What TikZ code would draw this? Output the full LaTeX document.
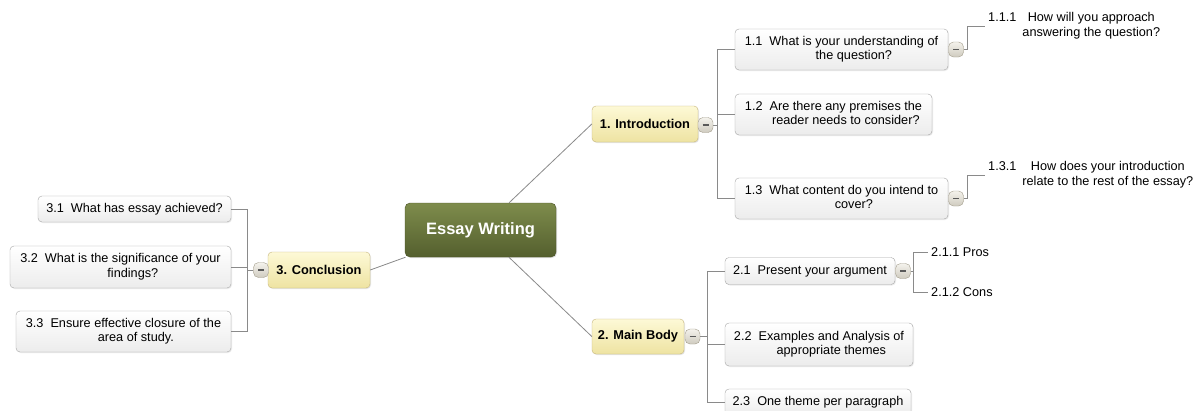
\documentclass[tikz,border=0pt]{standalone}
\usepackage{fontspec}
\setmainfont{Liberation Sans}
\usetikzlibrary{shadows}
\definecolor{lineg}{HTML}{8A8A8A}
\definecolor{roottop}{HTML}{7E8C4C}
\definecolor{rootbot}{HTML}{545F2E}
\definecolor{rootborder}{HTML}{4A5326}
\definecolor{maintop}{HTML}{FDF9D6}
\definecolor{mainbot}{HTML}{EEE3A2}
\definecolor{mainborder}{HTML}{C6B67C}
\definecolor{subbot}{HTML}{ECECEC}
\definecolor{subborder}{HTML}{A6A6A6}
\definecolor{btntop}{HTML}{F4F2EC}
\definecolor{btnbot}{HTML}{CFCBBF}
\definecolor{btnborder}{HTML}{A39D8C}
\newcommand\twoline[3]{\begin{tabular}{@{}l@{\hspace{7pt}}c@{}}#1&#2\\&#3\end{tabular}}
\newcommand\twolinew[3]{\begin{tabular}{@{}l@{\hspace{6pt}}c@{}}#1&#2\\&#3\end{tabular}}
\begin{document}
\begin{tikzpicture}[x=1pt,y=-1pt,
  conn/.style={draw=lineg, line width=0.8pt},
  rootbox/.style={rectangle, rounded corners=5pt, draw=rootborder, top color=roottop, bottom color=rootbot,
    text=white, font=\fontsize{16.5}{19}\selectfont\bfseries, minimum width=151pt, minimum height=54pt, inner sep=0pt,
    drop shadow={opacity=0.25, shadow xshift=1pt, shadow yshift=-1pt}},
  mainbox/.style={rectangle, rounded corners=4pt, draw=mainborder, top color=maintop, bottom color=mainbot,
    font=\fontsize{12.8}{15}\selectfont\bfseries, minimum height=36pt, inner sep=0pt,
    drop shadow={opacity=0.2, shadow xshift=1pt, shadow yshift=-1pt}},
  subbox/.style={rectangle, rounded corners=4pt, draw=subborder, top color=white, bottom color=subbot,
    font=\fontsize{12.7}{14.5}\selectfont, inner sep=0pt,
    drop shadow={opacity=0.15, shadow xshift=1pt, shadow yshift=-1pt}},
  leaf/.style={font=\fontsize{12.7}{14.5}\selectfont, inner xsep=3pt, inner ysep=1pt, anchor=west},
  btn/.style={rectangle, rounded corners=5pt, draw=btnborder, top color=btntop, bottom color=btnbot,
    minimum width=15pt, minimum height=15pt, inner sep=0pt}
]
\useasboundingbox (0,0) rectangle (1199,410);
\clip (0,0) rectangle (1199,410);
\fill[white] (0,0) rectangle (1199,410);

% root and main topics
\node[rootbox] (ew) at (480.5,230) {Essay Writing};
\node[mainbox, minimum width=106pt] (intro) at (645,124) {1. Introduction};
\node[mainbox, minimum width=92pt, minimum height=35pt] (body) at (638,336.5) {2. Main Body};
\node[mainbox, minimum width=102pt] (concl) at (319,270) {3. Conclusion};

% subtopics of introduction
\node[subbox, minimum width=213pt, minimum height=41pt] (n11) at (841.5,49.5) {\twoline{1.1}{What is your understanding of}{the question?}};
\node[subbox, minimum width=197pt, minimum height=41pt] (n12) at (833.5,114.5) {\twoline{1.2}{Are there any premises the}{reader needs to consider?}};
\node[subbox, minimum width=213pt, minimum height=41pt] (n13) at (841.5,198.5) {\twoline{1.3}{What content do you intend to}{cover?}};

% subtopics of main body
\node[subbox, minimum width=170pt, minimum height=27pt] (n21) at (810,271) {2.1\hspace{7pt}Present your argument};
\node[subbox, minimum width=188pt, minimum height=43pt] (n22) at (819,344.5) {\twoline{2.2}{Examples and Analysis of}{appropriate themes}};
\node[subbox, minimum width=186pt, minimum height=26pt] (n23) at (818,402) {2.3\hspace{7pt}One theme per paragraph};

% subtopics of conclusion
\node[subbox, minimum width=193pt, minimum height=26pt] (n31) at (134.5,209) {3.1\hspace{7pt}What has essay achieved?};
\node[subbox, minimum width=221pt, minimum height=42pt] (n32) at (120.5,267) {\twoline{3.2}{What is the significance of your}{findings?}};
\node[subbox, minimum width=215pt, minimum height=41pt] (n33) at (123.5,331.5) {\twoline{3.3}{Ensure effective closure of the}{area of study.}};

% leaves
\node[leaf] (t111) at (985,26) {\twolinew{1.1.1}{How will you approach}{answering the question?}};
\node[leaf] (t131) at (985,175) {\twolinew{1.3.1}{How does your introduction}{relate to the rest of the essay?}};
\node[leaf] (t211) at (928,252) {2.1.1 Pros};
\node[leaf] (t212) at (928,292) {2.1.2 Cons};

% collapse buttons
\node[btn] (bi) at (705.5,125) {\color{black!65}\rule{6pt}{1.6pt}};
\node[btn] (bb) at (692.5,336.5) {\color{black!65}\rule{6pt}{1.6pt}};
\node[btn] (bc) at (261,270) {\color{black!65}\rule{6pt}{1.6pt}};
\node[btn] (b11) at (956,49.5) {\color{black!65}\rule{6pt}{1.6pt}};
\node[btn] (b13) at (956,198.5) {\color{black!65}\rule{6pt}{1.6pt}};
\node[btn] (b21) at (903,271) {\color{black!65}\rule{6pt}{1.6pt}};

% connectors from root
\draw[conn] (ew) -- (intro.west);
\draw[conn] (ew) -- (body.west);
\draw[conn] (ew) -- (concl.east);

% introduction branches
\draw[conn] (bi.east) -- ++(4,0) |- (n11.west);
\draw[conn] (bi.east) -- ++(4,0) |- (n12.west);
\draw[conn] (bi.east) -- ++(4,0) |- (n13.west);
\draw[conn] (b11.east) -- ++(4,0) |- (t111.west);
\draw[conn] (b13.east) -- ++(4,0) |- (t131.west);

% main body branches
\draw[conn] (bb.east) -- ++(7,0) |- (n21.west);
\draw[conn] (bb.east) -- ++(7,0) |- (n22.west);
\draw[conn] (bb.east) -- ++(7,0) |- (n23.west);
\draw[conn] (b21.east) -- ++(3,0) |- (t211.west);
\draw[conn] (b21.east) -- ++(3,0) |- (t212.west);

% conclusion branches
\draw[conn] (bc.west) -- ++(-6,0) |- (n31.east);
\draw[conn] (bc.west) -- ++(-6,0) |- (n32.east);
\draw[conn] (bc.west) -- ++(-6,0) |- (n33.east);
\end{tikzpicture}
\end{document}
